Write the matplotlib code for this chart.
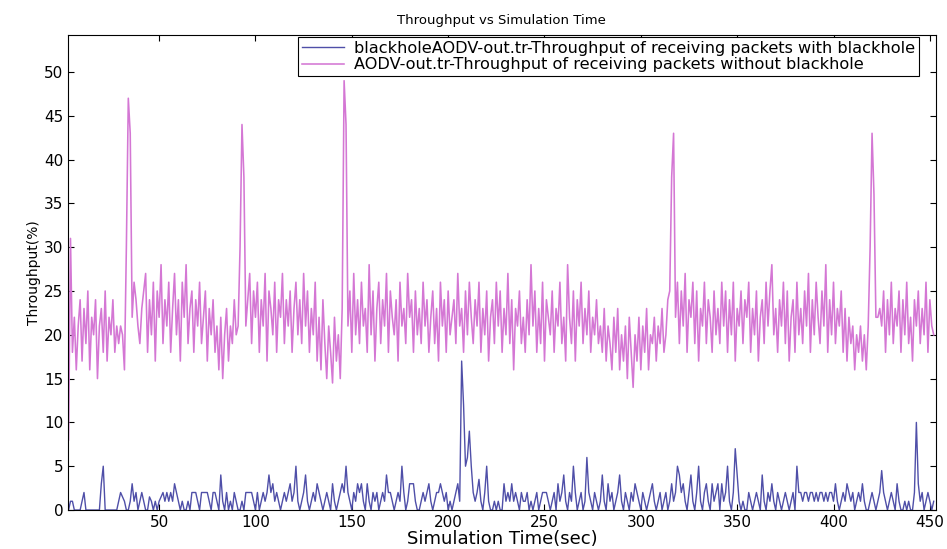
import numpy as np
import matplotlib
matplotlib.use('Agg')
import matplotlib.pyplot as plt

# time grid of the trace files (one sample per second)
t_start = 3
t_end = 452

# throughput with blackhole (%)
with_blackhole = [
    0, 1, 1, 0, 0, 0, 0, 1, 2, 0,
    0, 0, 0, 0, 0, 0, 0, 3, 5, 0,
    0, 0, 0, 0, 0, 0, 1, 2, 1.5, 1,
    0, 0, 1, 3, 1, 2, 0, 1, 2, 1,
    0, 0, 1.5, 1, 0, 1, 0, 1, 1.5, 2,
    1, 2, 1, 2, 1, 3, 2, 1, 0, 1,
    0, 0, 1, 0, 2, 2, 2, 1, 0, 2,
    2, 2, 2, 1, 0, 2, 2, 1, 0, 4,
    1, 0, 2, 0, 1, 0, 2, 1, 0, 0,
    1, 0, 2, 2, 2, 2, 1, 0, 2, 0,
    1, 2, 1, 2, 4, 2, 3, 1, 2, 1,
    0, 1, 2, 1, 2, 3, 1, 2, 5, 1,
    0, 1, 2, 4, 1, 0, 1, 2, 1, 3,
    2, 1, 0, 1, 2, 1, 0, 3, 1, 0,
    1, 2, 3, 2, 5, 2, 1, 0, 2, 1,
    3, 2, 3, 1, 0, 3, 1, 0, 2, 1,
    2, 0, 1, 2, 1, 4, 2, 2, 1, 0,
    1, 2, 1, 5, 2, 0, 1, 3, 3, 3,
    1, 0, 0, 1, 2, 1, 2, 3, 1, 0,
    1, 2, 2, 3, 2, 1, 2, 0, 1, 0,
    1, 2, 3, 1, 17, 12, 5, 6, 9, 5,
    2, 1, 2, 3.5, 1, 0, 2, 5, 1, 0,
    0, 1, 0, 1, 0, 0, 3, 1, 2, 1,
    3, 1, 2, 1, 0, 2, 1, 1, 2, 0,
    1, 0, 1, 2, 0, 1, 2, 2, 2, 1,
    0, 1, 2, 0, 3, 1, 2, 4, 1, 0,
    2, 1, 5, 2, 0, 1, 2, 0, 1, 6,
    2, 1, 0, 2, 1, 0, 1, 4, 1, 0,
    3, 1, 2, 0, 1, 2, 4, 1, 0, 2,
    1, 0, 2, 1, 3, 2, 1, 0, 2, 1,
    0, 1, 2, 3, 1, 0, 1, 2, 0, 1,
    2, 0, 1, 3, 1, 2, 5, 4, 2, 3,
    1, 0, 2, 4, 1, 0, 2, 5, 1, 0,
    2, 3, 1, 0, 3, 1, 2, 3, 0, 3,
    1, 2, 5, 1, 0, 2, 7, 4, 1, 0,
    1, 0, 0, 2, 1, 0, 1, 2, 1, 0,
    4, 1, 0, 2, 1, 3, 1, 0, 2, 1,
    0, 1, 2, 1, 0, 1, 2, 0, 5, 2,
    2, 1, 2, 2, 1, 2, 2, 1, 2, 1,
    2, 2, 1, 2, 1, 2, 2, 1, 3, 1,
    0, 1, 2, 1, 3, 2, 1, 2, 0, 1,
    2, 1, 3, 1, 0, 0, 1, 2, 1, 0,
    1, 2, 4.5, 2, 1, 0, 1, 2, 1, 0,
    3, 1, 0, 0, 1, 0, 1, 0, 0, 2,
    10, 3, 1, 2, 0, 1, 2, 1, 0, 1,
]

# throughput without blackhole (%)
without_blackhole = [
    8, 31, 18, 22, 16, 21, 24, 17, 23, 19,
    25, 16, 22, 20, 24, 15, 21, 23, 18, 25,
    17, 22, 20, 24, 18, 21, 19, 21, 20, 16,
    30, 47, 43, 22, 26, 24, 21, 19, 23, 25,
    27, 18, 24, 20, 26, 17, 25, 22, 28, 19,
    24, 21, 26, 18, 23, 27, 20, 24, 17, 26,
    22, 28, 19, 23, 25, 18, 24, 21, 26, 19,
    22, 25, 17, 23, 20, 24, 18, 21, 16, 22,
    15, 20, 23, 17, 21, 19, 24, 20, 21, 30,
    44, 38, 21, 24, 27, 19, 25, 22, 26, 18,
    24, 21, 27, 17, 25, 23, 20, 26, 18, 24,
    22, 27, 19, 24, 21, 25, 18, 23, 26, 20,
    24, 19, 27, 21, 25, 18, 23, 20, 26, 17,
    22, 16, 24, 19, 15, 21, 18, 14.5, 22, 17,
    20, 15, 23, 49, 44, 21, 25, 18, 27, 20,
    24, 19, 26, 21, 23, 18, 28, 20, 25, 17,
    23, 26, 19, 24, 21, 27, 18, 25, 22, 20,
    24, 17, 26, 21, 23, 19, 27, 22, 24, 18,
    25, 20, 23, 19, 26, 21, 24, 18, 22, 25,
    19, 23, 17, 26, 21, 24, 18, 25, 20, 22,
    24, 19, 27, 21, 23, 18, 25, 20, 26, 22,
    19, 24, 21, 26, 18, 23, 20, 25, 17, 22,
    24, 19, 26, 21, 25, 18, 23, 20, 27, 19,
    24, 16, 23, 21, 25, 19, 22, 18, 24, 20,
    28, 21, 25, 18, 23, 19, 26, 17, 24, 22,
    20, 25, 18, 23, 21, 26, 19, 22, 17, 28,
    22, 19, 25, 17, 24, 21, 26, 19, 23, 20,
    25, 18, 22, 20, 24, 19, 21, 18, 23, 17,
    21, 19, 16, 22, 18, 23, 16, 20, 17, 21,
    15, 22, 18, 14, 20, 17, 22, 16, 21, 18,
    23, 16, 20, 19, 22, 17, 21, 19, 23, 18,
    20, 24, 25, 38, 43, 22, 26, 19, 25, 21,
    27, 18, 24, 22, 26, 19, 25, 17, 23, 21,
    26, 19, 24, 22, 18, 25, 20, 23, 19, 26,
    21, 25, 18, 24, 20, 26, 17, 23, 21, 25,
    19, 24, 22, 26, 18, 23, 20, 25, 17, 22,
    24, 19, 26, 21, 25, 28, 20, 23, 18, 24,
    21, 26, 19, 25, 17, 22, 24, 18, 26, 20,
    23, 19, 25, 21, 27, 18, 24, 20, 26, 22,
    19, 25, 21, 28, 18, 24, 20, 26, 19, 23,
    21, 25, 18, 23, 17, 22, 19, 21, 16, 20,
    18, 21, 17, 20, 16, 21, 30, 43, 36, 22,
    22, 23, 21, 25, 18, 24, 20, 26, 19, 23,
    21, 25, 18, 24, 20, 26, 19, 22, 17, 24,
    21, 25, 19, 23, 20, 26, 18, 24, 21, 20,
]

x_ticks = [50, 100, 150, 200, 250, 300, 350, 400, 450]
y_ticks = [0, 5, 10, 15, 20, 25, 30, 35, 40, 45, 50]

label_with = 'blackholeAODV-out.tr-Throughput of receiving packets with blackhole'
label_without = 'AODV-out.tr-Throughput of receiving packets without blackhole'


def main():
    t = np.arange(t_start, t_end + 1)

    fig = plt.figure(figsize=(9.47, 5.49), dpi=100)
    ax = fig.add_axes([0.072, 0.071, 0.916, 0.865])

    ax.plot(t, with_blackhole, color='#4f4fa8', lw=1.0, label=label_with)
    ax.plot(t, without_blackhole, color='#d477d4', lw=1.15, label=label_without)

    ax.set_xlim(2.8, 453)
    ax.set_ylim(0, 54.2)
    ax.set_xticks(x_ticks)
    ax.set_yticks(y_ticks)
    ax.tick_params(direction='in', top=True, right=True, labelsize=11, length=4)

    ax.set_title('Throughput vs Simulation Time', fontsize=9.5, pad=8)
    ax.set_xlabel('Simulation Time(sec)', fontsize=13, labelpad=0)
    ax.set_ylabel('Throughput(%)', fontsize=10, labelpad=2)

    leg = ax.legend(loc='upper right', bbox_to_anchor=(0.981, 0.997),
                    fontsize=11.6, handlelength=2.6, borderpad=0.25,
                    labelspacing=0.1, handletextpad=0.6, fancybox=False,
                    framealpha=1, borderaxespad=0)
    leg.get_frame().set_edgecolor('black')
    leg.get_frame().set_linewidth(0.8)

    fig.savefig('out.png', dpi=100)


if __name__ == '__main__':
    main()
